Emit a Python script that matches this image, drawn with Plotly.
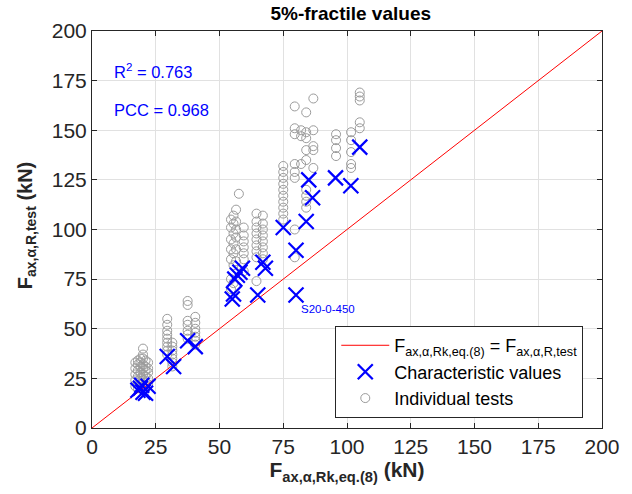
import plotly.graph_objects as go

# Characteristic (5%-fractile) values: predicted vs. tested
char_pred = [18, 19, 19.5, 20, 21, 22, 29.5, 32, 37.5, 40.5, 55, 55.5, 56, 57, 58, 59,
             65, 67, 68, 75, 80, 80, 84, 85, 86.5, 95.5, 101.5, 105]
char_test = [19, 20, 21.5, 18, 17.5, 21, 36, 31, 44, 41, 65, 67.5, 75, 77, 78.5, 80.5,
             67, 83.5, 80.5, 101, 89.5, 67, 104, 125, 116, 126, 122, 141.5]

# Individual test results, grouped by predicted value
test_groups = {
    17: [21, 24, 27, 30, 33],
    18: [20, 23, 26, 29, 32, 34],
    19: [22, 25, 28, 31, 33, 35],
    20: [21, 24, 27, 30, 32, 35, 37, 40],
    21: [20, 23, 26, 29, 31, 34],
    22: [22, 25, 28, 30, 33],
    29.5: [37, 39, 41, 43, 45, 47, 49, 52, 55],
    31.5: [31, 33, 35, 37, 39, 41, 43],
    37.5: [45, 47, 49, 52, 54, 62, 64],
    40.5: [42, 44, 46, 48, 50, 53, 56],
    54.5: [70, 75, 85, 90, 95, 101, 105],
    55.5: [73, 82, 88, 93, 98, 103, 107],
    56.5: [84, 90, 96, 100, 104, 110],
    57.6: [118],
    59.5: [79, 85, 88, 91, 94, 97, 101],
    64.5: [74, 86, 89, 92, 95, 98, 101, 104, 108],
    67: [85, 88, 91, 94, 97, 100, 103, 107],
    75: [105, 108, 111, 114, 117, 120, 123, 126, 129, 132],
    79.5: [86, 100, 126, 129, 133, 148, 151, 162],
    82: [133, 147, 150],
    84: [111, 114, 117, 120, 135, 140, 146, 149, 159],
    86.8: [131, 140, 142, 150, 166],
    95.7: [137, 141, 145, 148],
    101.6: [131, 133, 139, 145, 149],
    105: [151, 154, 165, 167, 169],
}
tests_pred = [x for x, ys in test_groups.items() for _ in ys]
tests_val = [y for ys in test_groups.values() for y in ys]

axis_ticks = [0, 25, 50, 75, 100, 125, 150, 175, 200]
r2_text = "R<sup>2</sup> = 0.763"
pcc_text = "PCC = 0.968"
outlier_label = "S20-0-450"
outlier_pos = (80, 67)

font = "Liberation Sans, Arial, sans-serif"
blue = "rgb(0,0,255)"
dark = "rgb(38,38,38)"

fig = go.Figure()
fig.add_trace(go.Scatter(
    x=tests_pred, y=tests_val, mode="markers", name="Individual tests",
    marker=dict(symbol="circle-open", size=9, color="rgb(155,155,155)",
                line=dict(width=1, color="rgb(155,155,155)")),
    legendrank=3,
))
fig.add_trace(go.Scatter(
    x=[0, 200], y=[0, 200], mode="lines",
    name="F<sub>ax,α,Rk,eq.(8)</sub> = F<sub>ax,α,R,test</sub>",
    line=dict(color="rgb(255,0,0)", width=1),
    legendrank=1,
))
fig.add_trace(go.Scatter(
    x=char_pred, y=char_test, mode="markers", name="Characteristic values",
    marker=dict(symbol="x-thin", size=15, color=blue,
                line=dict(width=2.2, color=blue)),
    legendrank=2,
))

axis_common = dict(
    range=[0, 200], tickvals=axis_ticks, ticks="inside", ticklen=5,
    tickcolor=dark, showline=True, linecolor=dark,
    linewidth=1, mirror="allticks", showgrid=True, gridcolor="rgb(225,225,225)",
    gridwidth=1, zeroline=False, tickfont=dict(size=21, color=dark),
)
fig.update_xaxes(**axis_common,
                 title=dict(text="<b>F<sub>ax,α,Rk,eq.(8)</sub> (kN)</b>",
                            font=dict(size=21, color=dark), standoff=4))
fig.update_yaxes(**axis_common)

# y-axis title, placed just left of the tick labels
fig.add_annotation(x=-0.128, y=0.51, xref="paper", yref="paper",
                   text="<b>F<sub>ax,α,R,test</sub> (kN)</b>", textangle=-90,
                   showarrow=False, xanchor="center", yanchor="middle",
                   font=dict(size=20, color=dark))

fig.add_annotation(x=8, y=180, xref="x", yref="y", text=r2_text, showarrow=False,
                   xanchor="left", font=dict(size=16.5, color=blue))
fig.add_annotation(x=8, y=160, xref="x", yref="y", text=pcc_text, showarrow=False,
                   xanchor="left", font=dict(size=16.5, color=blue))
fig.add_annotation(x=outlier_pos[0] + 1, y=outlier_pos[1] - 7, xref="x", yref="y",
                   text=outlier_label, showarrow=False, xanchor="left",
                   font=dict(size=11.5, color=blue))

fig.update_layout(
    width=632, height=494,
    margin=dict(l=92, r=26, t=31, b=66),
    paper_bgcolor="white", plot_bgcolor="white",
    font=dict(family=font, color=dark),
    title=dict(text="<b>5%-fractile values</b>", x=0.555, xanchor="center",
               y=0.972, yanchor="middle", font=dict(size=19, color="black")),
    showlegend=True,
    legend=dict(x=0.477, y=0.025, xanchor="left", yanchor="bottom",
                bgcolor="white", bordercolor=dark, borderwidth=1,
                font=dict(size=18, color="black"), tracegroupgap=0,
                itemwidth=48),
)

fig.write_html("out.html")
